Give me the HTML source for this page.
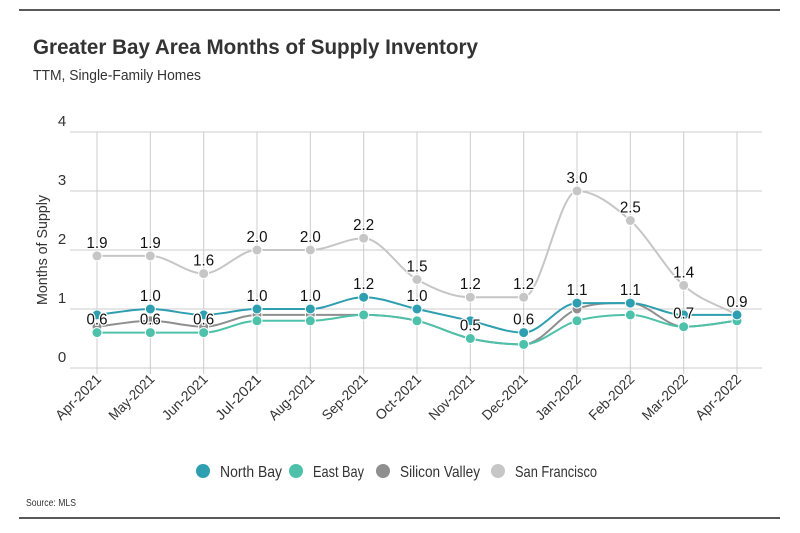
<!DOCTYPE html>
<html><head><meta charset="utf-8"><style>
body{margin:0;background:#fff;}
svg text{font-family:"Liberation Sans",sans-serif;}
</style></head><body>
<svg id="c" width="800" height="528" xmlns="http://www.w3.org/2000/svg">
<line x1="19" y1="10" x2="780" y2="10" stroke="#222" stroke-width="1.5"/>
<text x="33" y="54" font-size="21" font-weight="bold" fill="#333" textLength="445" lengthAdjust="spacingAndGlyphs">Greater Bay Area Months of Supply Inventory</text>
<text x="33" y="80" font-size="15" fill="#333" textLength="168" lengthAdjust="spacingAndGlyphs">TTM, Single-Family Homes</text>
<text transform="translate(47,250) rotate(-90)" text-anchor="middle" font-size="15" fill="#333" textLength="110" lengthAdjust="spacingAndGlyphs">Months of Supply</text>
<g id="grid"></g><g id="series"></g><g id="labels"></g><g id="xaxis"></g>
<g id="legend"></g>
<text x="26" y="506" font-size="10" fill="#333" textLength="50" lengthAdjust="spacingAndGlyphs">Source: MLS</text>
<line x1="19" y1="518" x2="780" y2="518" stroke="#222" stroke-width="1.5"/>
</svg>
<script>
const categories=["Apr-2021","May-2021","Jun-2021","Jul-2021","Aug-2021","Sep-2021","Oct-2021","Nov-2021","Dec-2021","Jan-2022","Feb-2022","Mar-2022","Apr-2022"];
const yTicks=[0,1,2,3,4];
const seriesNames=["North Bay","East Bay","Silicon Valley","San Francisco"];
const northBay=[0.9,1.0,0.9,1.0,1.0,1.2,1.0,0.8,0.6,1.1,1.1,0.9,0.9];
const eastBay=[0.6,0.6,0.6,0.8,0.8,0.9,0.8,0.5,0.4,0.8,0.9,0.7,0.8];
const siliconValley=[0.7,0.8,0.7,0.9,0.9,0.9,0.8,0.5,0.4,1.0,1.1,0.7,0.8];
const sanFrancisco=[1.9,1.9,1.6,2.0,2.0,2.2,1.5,1.2,1.2,3.0,2.5,1.4,0.9];
const labelNorthBay=[null,1.0,null,1.0,1.0,1.2,1.0,null,0.6,1.1,1.1,null,null];
const labelEastBay=[0.6,0.6,0.6,null,null,null,null,null,null,null,null,null,null];
const labelSiliconValley=[null,null,null,null,null,null,null,0.5,null,null,null,0.7,null];
const labelSanFrancisco=sanFrancisco;

const colors=["#2e9fb0","#4dc1a9","#8f8f8f","#c6c6c6"];
const X0=97,X1=737,Y0=368,YU=59,PL=70,PR=762;
const xs=i=>X0+i*(X1-X0)/(categories.length-1);
const ys=v=>Y0-v*YU;
const NS="http://www.w3.org/2000/svg";
function mk(t,a,p){const e=document.createElementNS(NS,t);for(const k in a)e.setAttribute(k,a[k]);p.appendChild(e);return e;}
const grid=document.getElementById('grid');
yTicks.forEach(t=>{
  const l=mk('line',{x1:PL,x2:PR,y1:ys(t),y2:ys(t),stroke:'#ccc','stroke-width':1},grid);
  
  
  const tx=mk('text',{x:62,y:ys(t)-6,'font-size':15,fill:'#333','text-anchor':'middle'},grid);
  tx.textContent=t;
  
  
});
categories.forEach((c,i)=>{
  const l=mk('line',{x1:xs(i),x2:xs(i),y1:ys(4),y2:Y0+6,stroke:'#ccc','stroke-width':1},grid);
  
  
  const tx=mk('text',{transform:`translate(${xs(i)+5},${Y0+12}) rotate(-45)`,'font-size':14,fill:'#333','text-anchor':'end',textLength:58,lengthAdjust:'spacingAndGlyphs'},document.getElementById('xaxis'));
  tx.textContent=c;
  
  
});
function monotone(pts){
  const n=pts.length,d=[],m=[];
  for(let i=0;i<n-1;i++)d.push((pts[i+1][1]-pts[i][1])/(pts[i+1][0]-pts[i][0]));
  for(let i=0;i<n;i++){
    if(i==0)m.push(d[0]);else if(i==n-1)m.push(d[n-2]);
    else m.push(d[i-1]*d[i]<=0?0:(d[i-1]+d[i])/2);
  }
  let s=`M${pts[0][0]},${pts[0][1]}`;
  for(let i=0;i<n-1;i++){const h=(pts[i+1][0]-pts[i][0])/3;
    s+=`C${pts[i][0]+h},${pts[i][1]+m[i]*h} ${pts[i+1][0]-h},${pts[i+1][1]-m[i+1]*h} ${pts[i+1][0]},${pts[i+1][1]}`;}
  return s;
}
const data=[northBay,eastBay,siliconValley,sanFrancisco];
const sg=document.getElementById('series');
[3,2,1,0].forEach(k=>{
  const arr=data[k];const pts=arr.map((v,i)=>[xs(i),ys(v)]);
  const p=mk('path',{d:monotone(pts),fill:'none',stroke:colors[k],'stroke-width':2},sg);
  
  
  pts.forEach(q=>{
    const c=mk('circle',{cx:q[0],cy:q[1],r:5,fill:colors[k],stroke:'#fff','stroke-width':1},sg);
    
    
  });
});
const lg=document.getElementById('labels');
[labelNorthBay,labelEastBay,labelSiliconValley,labelSanFrancisco].forEach(arr=>{
  arr.forEach((v,i)=>{if(v==null)return;
    const t=mk('text',{x:xs(i),y:ys(v)-8,'font-size':16,fill:'#111','text-anchor':'middle',stroke:'#fff','stroke-width':2.5,'paint-order':'stroke',textLength:21,lengthAdjust:'spacingAndGlyphs'},lg);
    t.textContent=v.toFixed(1);
    
    
  });
});
const leg=document.getElementById('legend');
const lx=[203,296,383,498];
const lw=[62,51,80,82];
seriesNames.forEach((n,k)=>{
  const g=mk('g',{},leg);
  
  
  mk('circle',{cx:lx[k],cy:471,r:7,fill:colors[k]},g);
  const t=mk('text',{x:lx[k]+17,y:477,'font-size':16,fill:'#333',textLength:lw[k],lengthAdjust:'spacingAndGlyphs'},g);
  t.textContent=n;
});
</script>
</body></html>
